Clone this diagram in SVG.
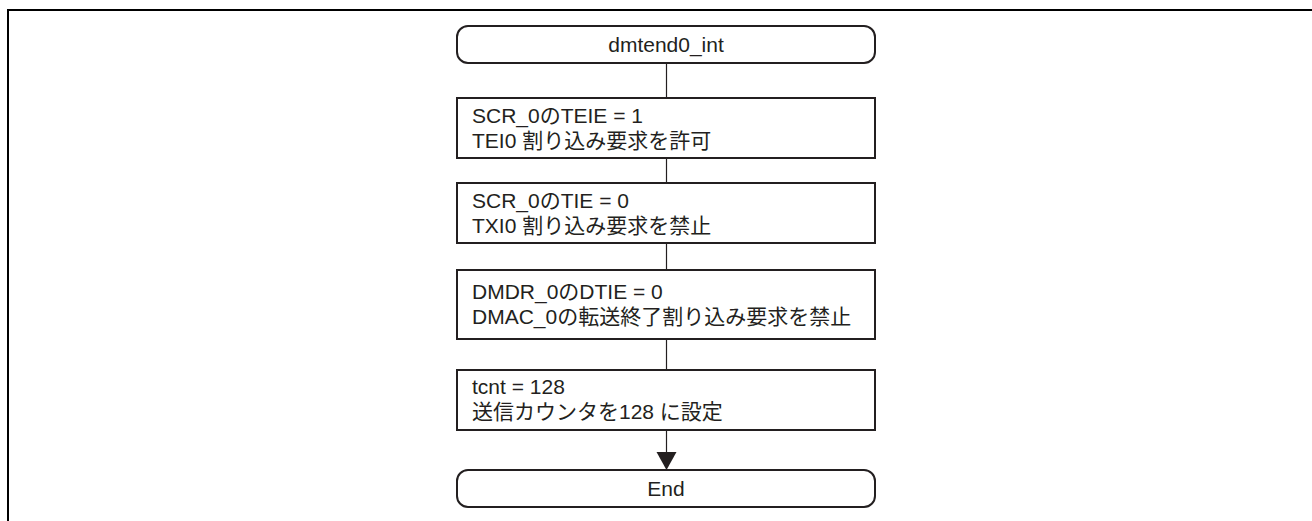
<svg xmlns="http://www.w3.org/2000/svg" width="1312" height="521" viewBox="0 0 1312 521">
<defs>
<style>
.frame{fill:none;stroke:#000;stroke-width:2}
.shape{fill:#fff;stroke:#231f20;stroke-width:2}
.ln{fill:none;stroke:#231f20;stroke-width:1.2}
text{font-family:"Liberation Sans","Noto Sans CJK JP",sans-serif;font-size:21px;fill:#231f20}
.c{text-anchor:middle}
</style>
</defs>
<rect width="1312" height="521" fill="#fff"/>
<path class="frame" d="M8,521 V10 H1312"/>
<g id="connectors">
<line class="ln" x1="666.5" y1="63" x2="666.5" y2="98"/>
<line class="ln" x1="666.5" y1="158" x2="666.5" y2="183"/>
<line class="ln" x1="666.5" y1="243" x2="666.5" y2="270"/>
<line class="ln" x1="666.5" y1="339" x2="666.5" y2="370"/>
<line class="ln" x1="666.5" y1="430" x2="666.5" y2="454"/>
<path d="M656.5,452 L676.5,452 L666.5,470 Z" fill="#231f20"/>
</g>
<g id="start">
<rect class="shape" x="457" y="26" width="418" height="37" rx="11" ry="11"/>
<text class="c" x="666" y="52">dmtend0_int</text>
</g>
<g id="step1">
<rect class="shape" x="457" y="98" width="418" height="60"/>
<text x="472" y="123">SCR_0のTEIE = 1</text>
<text x="472" y="148">TEI0 割り込み要求を許可</text>
</g>
<g id="step2">
<rect class="shape" x="457" y="183" width="418" height="60"/>
<text x="472" y="208">SCR_0のTIE = 0</text>
<text x="472" y="233">TXI0 割り込み要求を禁止</text>
</g>
<g id="step3">
<rect class="shape" x="457" y="270" width="418" height="69"/>
<text x="472" y="299">DMDR_0のDTIE = 0</text>
<text x="472" y="324">DMAC_0の転送終了割り込み要求を禁止</text>
</g>
<g id="step4">
<rect class="shape" x="457" y="370" width="418" height="60"/>
<text x="472" y="394">tcnt = 128</text>
<text x="472" y="419">送信カウンタを128 に設定</text>
</g>
<g id="end">
<rect class="shape" x="457" y="470" width="418" height="37" rx="11" ry="11"/>
<text class="c" x="666" y="496">End</text>
</g>
</svg>
